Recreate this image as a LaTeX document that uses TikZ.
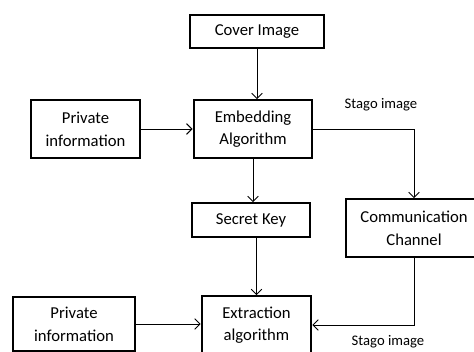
\documentclass[tikz,border=0pt]{standalone}
\usepackage{fontspec}
\setmainfont{Carlito}
\usetikzlibrary{arrows.meta}
\tikzstyle{flow}=[x=0.75pt, y=-0.75pt, >={Straight Barb[length=4pt,width=8pt]}, line width=0.7pt]
\tikzstyle{block}=[draw, line width=1.7pt, align=center, font=\fontsize{12.5}{17}\selectfont, inner sep=0pt]
\tikzstyle{tag}=[font=\fontsize{11}{13}\selectfont, inner sep=0pt]

\begin{document}
\begin{tikzpicture}[flow]
  \useasboundingbox (0,0) rectangle (474,351);
  \clip (0,0) rectangle (474,351);
  \node[block, minimum width=101pt, minimum height=25pt] (cover) at (257,31.5) {Cover Image};
  \node[block, minimum width=89pt, minimum height=43pt] (emb) at (253,129) {Embedding\\Algorithm};
  \node[block, minimum width=82pt, minimum height=43pt] (priv1) at (85.5,129) {Private\\information};
  \node[block, minimum width=88pt, minimum height=25pt] (key) at (251,220) {Secret Key};
  \node[block, minimum width=102pt, minimum height=43pt] (comm) at (414,228) {Communication\\Channel};
  \node[block, minimum width=82pt, minimum height=43pt] (ext) at (256.5,325) {Extraction\\algorithm};
  \node[block, minimum width=92pt, minimum height=41pt] (priv2) at (74,324) {Private\\information};
  \node[tag] (stago1) at (381,105) {Stago image};
  \node[tag] (stago2) at (388,342) {Stago image};
  \draw[->] (cover.south) -- (cover.south |- emb.north);
  \draw[->] (priv1) -- (emb);
  \draw[->] (emb.east) -| (comm.north);
  \draw[->] (emb.south) -- (emb.south |- key.north);
  \draw[->] (ext.north |- key.south) -- (ext.north);
  \draw[->] (priv2.east) -- (priv2.east -| ext.west);
  \draw[->] (comm.south) |- (ext.east);
\end{tikzpicture}
\end{document}
